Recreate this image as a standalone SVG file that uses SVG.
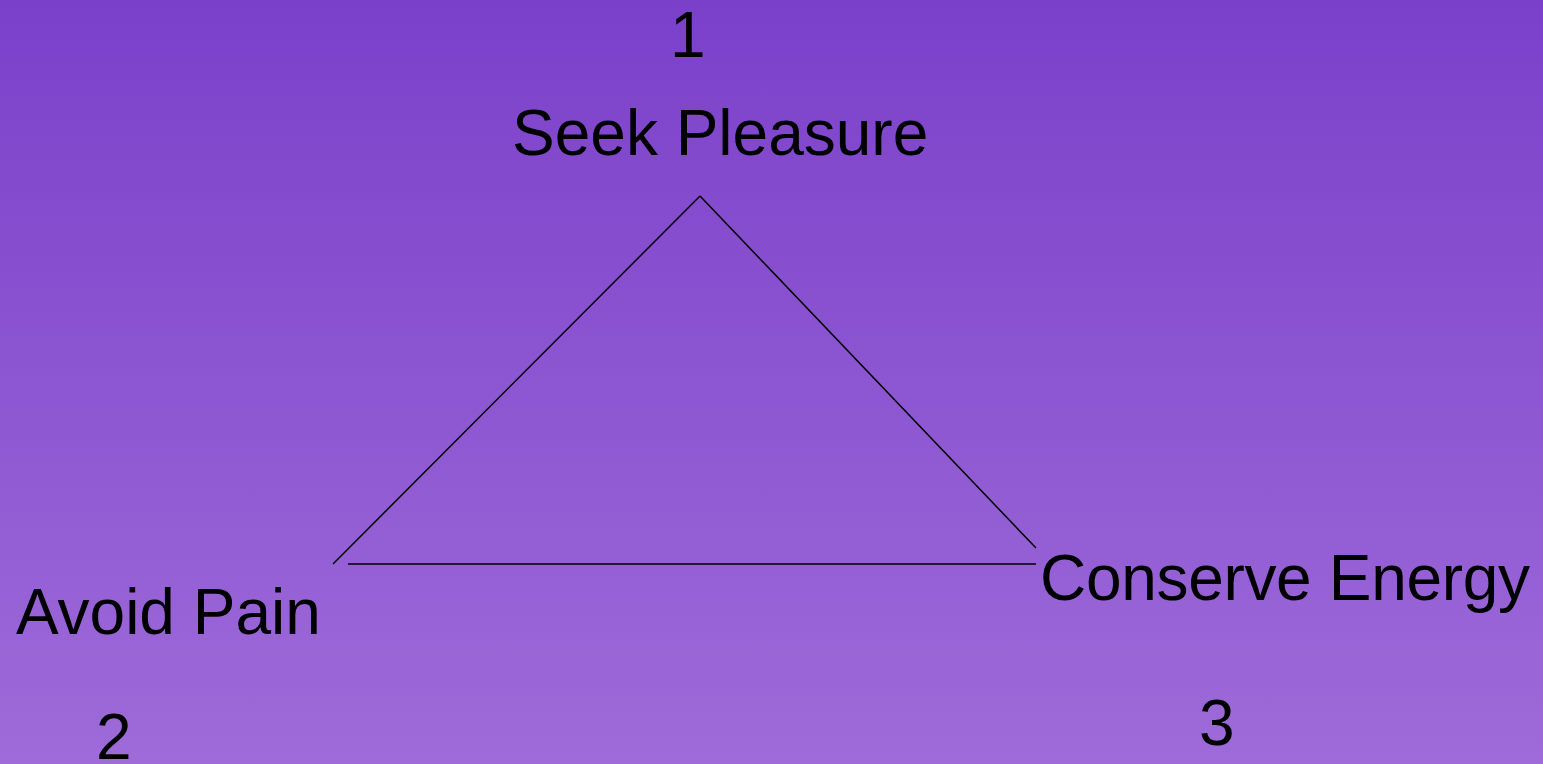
<svg xmlns="http://www.w3.org/2000/svg" width="1543" height="764" viewBox="0 0 1543 764">
<defs>
<linearGradient id="bg" x1="0" y1="0" x2="0" y2="1">
<stop offset="0" stop-color="#7B40CA"/>
<stop offset="1" stop-color="#9E6BD9"/>
</linearGradient>
<style>
.t{font-family:"Liberation Sans",Arial,sans-serif;font-size:64px;fill:#000}
.l{stroke:#000;stroke-width:1.5;fill:none}
</style>
</defs>
<rect width="1543" height="764" fill="url(#bg)"/>
<g id="connectors">
<line class="l" x1="333" y1="564" x2="700" y2="196"/>
<line class="l" x1="700" y1="196" x2="1036" y2="548"/>
<line class="l" x1="348" y1="564" x2="1036" y2="564"/>
</g>
<g id="n1"><text class="t" x="670" y="57">1</text></g>
<g id="seek"><text class="t" x="512" y="155">Seek Pleasure</text></g>
<g id="avoid"><text class="t" x="16" y="634">Avoid Pain</text></g>
<g id="conserve"><text class="t" x="1040" y="600" textLength="490">Conserve Energy</text></g>
<g id="n2"><text class="t" x="96" y="759">2</text></g>
<g id="n3"><text class="t" x="1199" y="745">3</text></g>
</svg>
